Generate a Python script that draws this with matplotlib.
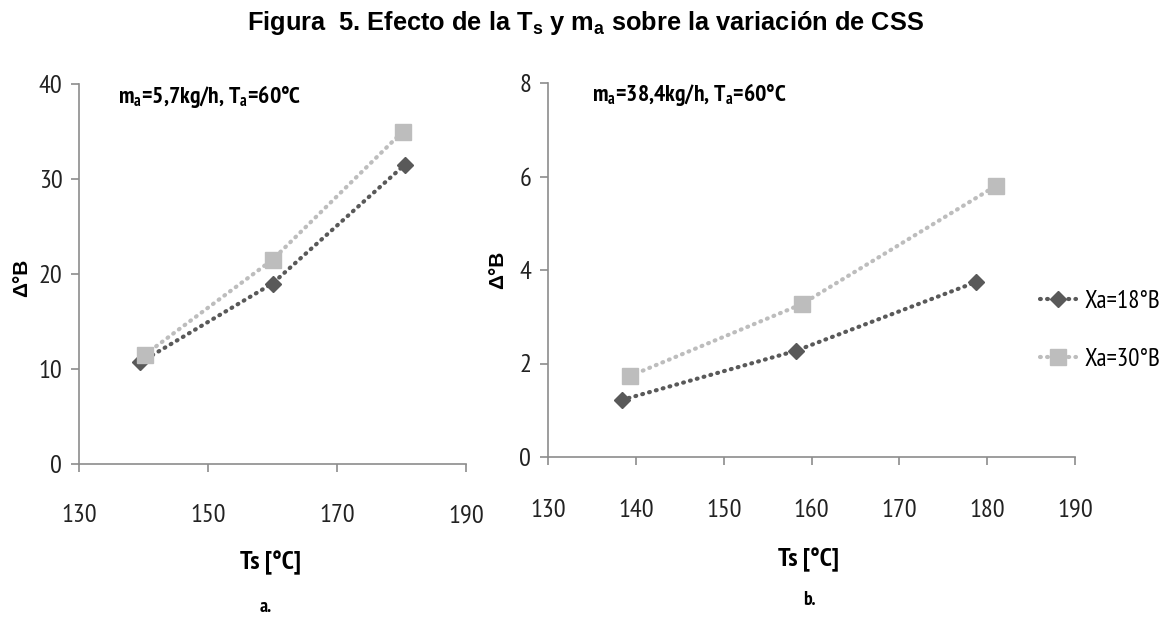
import matplotlib
matplotlib.use("Agg")
import matplotlib.pyplot as plt

# data
ts_a_18 = [139.5, 160.0, 180.5]
cb_a_18 = [10.7, 19.0, 31.5]
ts_a_30 = [140.2, 160.0, 180.2]
cb_a_30 = [11.5, 21.5, 35.0]

ts_b_18 = [138.4, 158.2, 178.7]
cb_b_18 = [1.22, 2.27, 3.74]
ts_b_30 = [139.3, 158.9, 181.0]
cb_b_30 = [1.73, 3.27, 5.80]

labels = ["Xa=18°B", "Xa=30°B"]
xticks_a = [130, 150, 170, 190]
xticks_b = [130, 140, 150, 160, 170, 180, 190]

narrow = ["PT Sans Narrow", "Archivo Narrow", "DejaVu Sans"]
arial = ["Liberation Sans", "DejaVu Sans"]
plt.rcParams["mathtext.default"] = "regular"

dark = "#595959"
light = "#bdbdbd"
axcol = "#8c8c8c"

fig = plt.figure(figsize=(11.71, 6.22), dpi=100)
fig.text(0.5, 0.963, "Figura  5. Efecto de la T$_s$ y m$_a$ sobre la variación de CSS",
         ha="center", va="center", fontsize=18.3, fontweight="bold", family=arial)

ax1 = fig.add_axes([79 / 1171, 1 - 464 / 622, 387 / 1171, 380 / 622])
ax2 = fig.add_axes([548 / 1171, 1 - 457 / 622, 527 / 1171, 374 / 622])


def draw(ax, x18, y18, x30, y30):
    l1, = ax.plot(x18, y18, color=dark, lw=3, linestyle=(0, (0.2, 1.5)),
                  dash_capstyle="round", marker="D", ms=8, mfc=dark, mec=dark)
    l2, = ax.plot(x30, y30, color=light, lw=3, linestyle=(0, (0.2, 1.5)),
                  dash_capstyle="round", marker="s", ms=11, mfc=light, mec=light)
    for s in ["top", "right"]:
        ax.spines[s].set_visible(False)
    for s in ["left", "bottom"]:
        ax.spines[s].set_color(axcol)
        ax.spines[s].set_linewidth(1.2)
    ax.tick_params(colors=axcol, length=6, width=1.2, labelcolor="#222222")
    return l1, l2


def style_ticks(ax):
    for lab in ax.get_xticklabels() + ax.get_yticklabels():
        lab.set_family(narrow)
        lab.set_fontsize(19)


draw(ax1, ts_a_18, cb_a_18, ts_a_30, cb_a_30)
ax1.set_xlim(130, 190)
ax1.set_ylim(0, 40)
ax1.set_xticks(xticks_a)
ax1.set_yticks([0, 10, 20, 30, 40])
style_ticks(ax1)
ax1.tick_params(axis="x", pad=23)
ax1.tick_params(axis="y", pad=6)

l1, l2 = draw(ax2, ts_b_18, cb_b_18, ts_b_30, cb_b_30)
ax2.set_xlim(130, 190)
ax2.set_ylim(0, 8)
ax2.set_xticks(xticks_b)
ax2.set_yticks([0, 2, 4, 6, 8])
style_ticks(ax2)
ax2.tick_params(axis="x", pad=24)
ax2.tick_params(axis="y", pad=6)

fig.text(22 / 1171, 1 - 278 / 622, "Δ°B", rotation=90, ha="center", va="center",
         fontsize=15, fontweight="bold", family=arial)
fig.text(498 / 1171, 1 - 270 / 622, "Δ°B", rotation=90, ha="center", va="center",
         fontsize=15, fontweight="bold", family=arial)

fig.text(118 / 1171, 1 - 97 / 622, "m$_a$=5,7kg/h, T$_a$=60°C", ha="left", va="center",
         fontsize=17, fontweight="bold", family=narrow)
fig.text(592 / 1171, 1 - 94 / 622, "m$_a$=38,4kg/h, T$_a$=60°C", ha="left", va="center",
         fontsize=17, fontweight="bold", family=narrow)

fig.text(270 / 1171, 1 - 563 / 622, "Ts [°C]", ha="center", va="center",
         fontsize=19, fontweight="bold", family=narrow)
fig.text(809 / 1171, 1 - 560 / 622, "Ts [°C]", ha="center", va="center",
         fontsize=19, fontweight="bold", family=narrow)
fig.text(266 / 1171, 1 - 607 / 622, "a.", ha="center", va="center",
         fontsize=14, fontweight="bold", family=narrow)
fig.text(809 / 1171, 1 - 600 / 622, "b.", ha="center", va="center",
         fontsize=14, fontweight="bold", family=narrow)

fig.legend([l1, l2], labels, loc="center left", bbox_to_anchor=(1040 / 1171, 1 - 330 / 622),
           frameon=False, prop={"family": narrow, "size": 18}, handlelength=1.45,
           handletextpad=0.35, labelspacing=1.4, borderpad=0, borderaxespad=0)

fig.savefig("out.png", dpi=100)
